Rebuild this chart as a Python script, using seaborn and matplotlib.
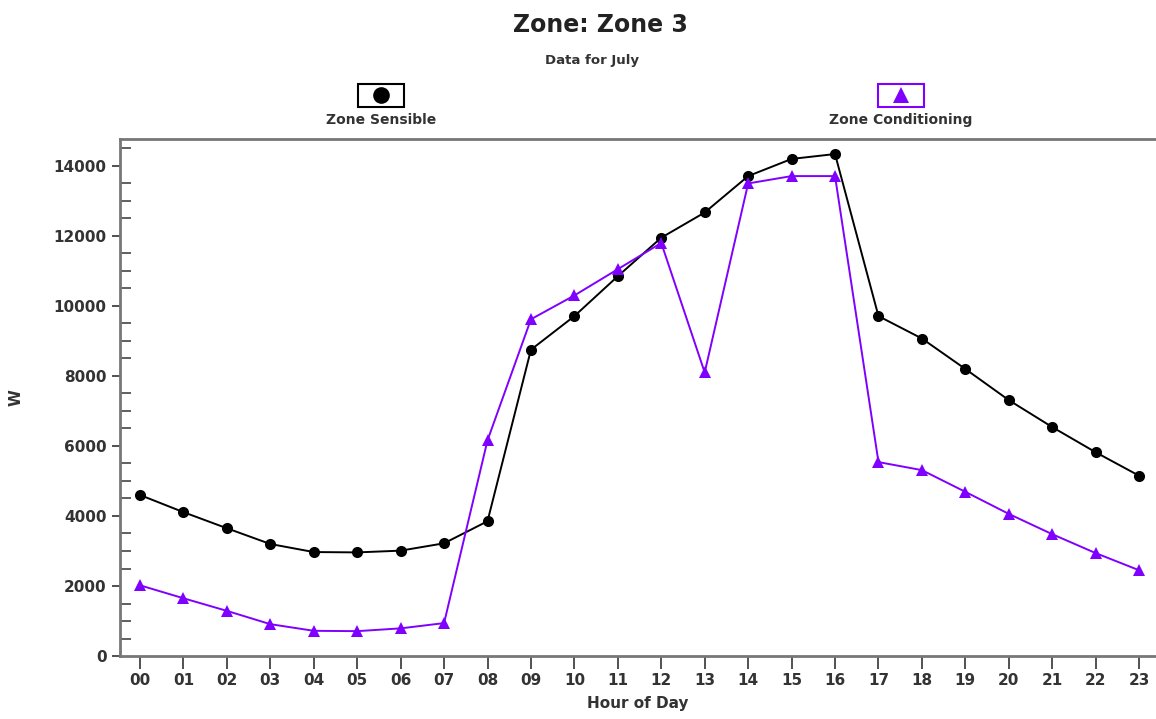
import matplotlib
matplotlib.use("Agg")
import matplotlib.pyplot as plt
import seaborn as sns
import pandas as pd
import numpy as np
from matplotlib.patches import Rectangle
from matplotlib.lines import Line2D
from matplotlib.ticker import MultipleLocator

hours = ["00", "01", "02", "03", "04", "05", "06", "07", "08", "09", "10", "11",
         "12", "13", "14", "15", "16", "17", "18", "19", "20", "21", "22", "23"]
zone_sensible = [4600, 4110, 3650, 3200, 2970, 2960, 3010, 3220, 3850, 8750, 9710, 10850,
                 11950, 12670, 13710, 14200, 14340, 9710, 9070, 8200, 7310, 6540, 5820, 5150]
zone_conditioning = [2020, 1650, 1290, 910, 720, 710, 790, 940, 6160, 9620, 10300, 11050,
                     11800, 8100, 13500, 13710, 13710, 5540, 5310, 4690, 4060, 3480, 2940, 2450]
series_names = ["Zone Sensible", "Zone Conditioning"]
colors = ["#000000", "#7f00ff"]

df = pd.DataFrame({
    "x": list(range(len(hours))) * 2,
    "W": zone_sensible + zone_conditioning,
    "series": [series_names[0]] * len(hours) + [series_names[1]] * len(hours),
})

sns.set_style("white")
plt.rcParams['font.family'] = ['Liberation Sans Narrow', 'DejaVu Sans']

fig = plt.figure(figsize=(11.56, 7.19), dpi=100)
ax = fig.add_axes([0.1038, 0.0876, 0.8955, 0.7191])

sns.lineplot(data=df, x="x", y="W", hue="series", style="series",
             palette=dict(zip(series_names, colors)),
             markers={series_names[0]: "o", series_names[1]: "^"},
             dashes=False, markersize=8, linewidth=1.4, markeredgewidth=0,
             legend=False, ax=ax)

ax.set_xlim(-0.46, 23.37)
ax.set_ylim(0, 14770)
ax.set_xticks(range(len(hours)))
ax.set_xticklabels(hours)
ax.yaxis.set_major_locator(MultipleLocator(2000))
ax.yaxis.set_minor_locator(MultipleLocator(500))
ax.tick_params(axis="x", direction="out", length=9, width=1.2, color="#333333",
               labelsize=11, labelcolor="#333333", pad=3, bottom=True)
ax.tick_params(axis="y", which="major", direction="out", length=6, width=1.2,
               color="#333333", labelsize=11, labelcolor="#333333", left=True)
ax.tick_params(axis="y", which="minor", direction="in", length=8, width=1.2,
               color="#444444", left=True)
for lab in ax.get_xticklabels() + ax.get_yticklabels():
    lab.set_fontweight("bold")

for side in ["left", "top", "bottom", "right"]:
    ax.spines[side].set_color("#777777")
    ax.spines[side].set_linewidth(2)
ax.spines["right"].set_visible(False)

ax.set_xlabel("Hour of Day", fontsize=11, fontweight="bold", color="#333333", labelpad=6)
ax.set_ylabel("W", fontsize=11, fontweight="bold", color="#333333", labelpad=22)

fig.text(0.5194, 0.965, "Zone: Zone 3", ha="center", va="center",
         fontsize=17, fontweight="bold", color="#222222")
fig.text(592 / 1156, 0.916, "Data for July", ha="center", va="center",
         fontsize=9.5, fontweight="bold", color="#333333")

# legend boxes
W, H = 1156, 719
def fx(px):
    return px / W
def fy(py):
    return 1 - py / H

legend_items = [
    (381, series_names[0], colors[0], "o", "#000000"),
    (901, series_names[1], colors[1], "^", colors[1]),
]
for cx, name, col, mk, edge in legend_items:
    fig.add_artist(Rectangle((fx(cx - 23), fy(107)), 46 / W, 23 / H,
                             transform=fig.transFigure, fill=False,
                             edgecolor=edge, linewidth=1.5))
    fig.add_artist(Line2D([fx(cx)], [fy(95)], transform=fig.transFigure,
                          marker=mk, markersize=12, color=col, markeredgewidth=0,
                          linestyle="none"))
    fig.text(fx(cx), fy(120), name, ha="center", va="center", fontsize=10,
             fontweight="bold", color="#333333")

fig.savefig("out.png", dpi=100, facecolor="white")
